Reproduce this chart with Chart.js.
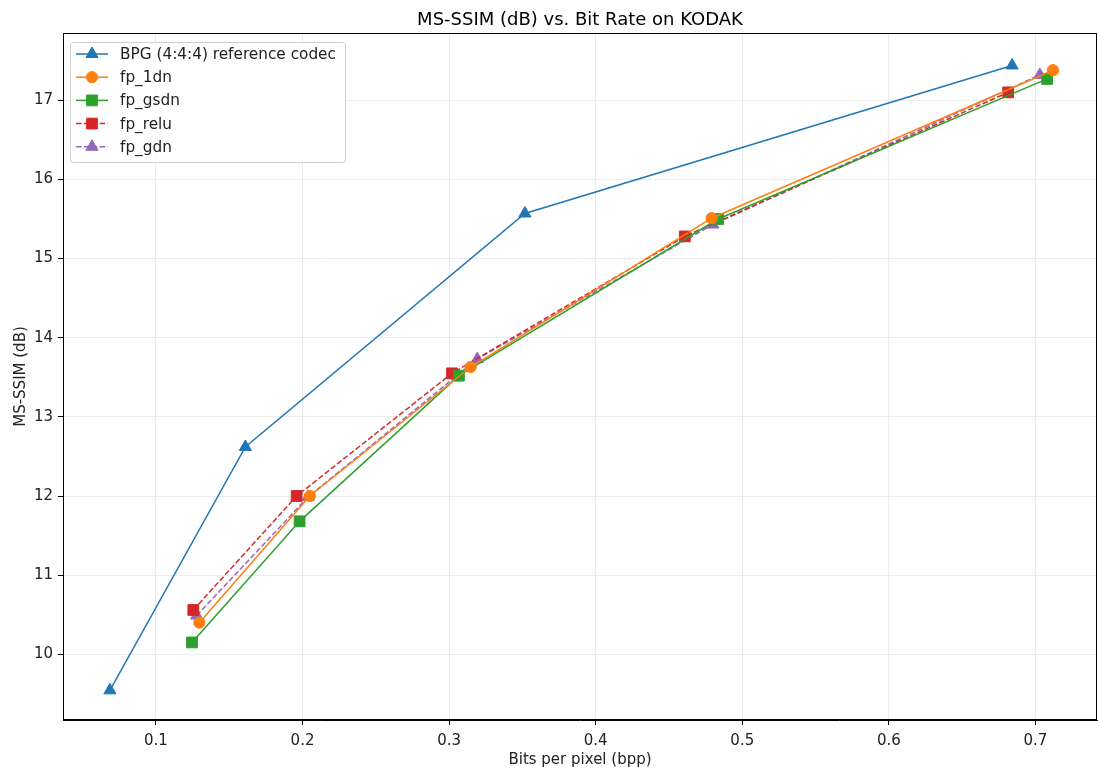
<!DOCTYPE html>
<html>
<head>
<meta charset="utf-8">
<script src="https://cdn.jsdelivr.net/npm/chart.js@4"></script>
<style>
  body { margin: 0; background: #fff; }
  canvas { display: block; }
</style>
</head>
<body>
<canvas id="graph" width="1098" height="771"></canvas>
<script>
// bit rates (bpp) and MS-SSIM (dB)
const bpgX = [0.0686, 0.1610, 0.3517, 0.6841]
const bpgY = [9.545, 12.62, 15.57, 17.44]
const fp1dnX = [0.1296, 0.2050, 0.3147, 0.4791, 0.7120]
const fp1dnY = [10.40, 12.00, 13.63, 15.51, 17.38]
const fpGsdnX = [0.1246, 0.1980, 0.3067, 0.4836, 0.7080]
const fpGsdnY = [10.15, 11.68, 13.52, 15.50, 17.27]
const fpReluX = [0.1255, 0.1960, 0.3020, 0.4608, 0.6814]
const fpReluY = [10.56, 12.00, 13.55, 15.28, 17.10]
const fpGdnX = [0.1278, 0.2039, 0.3192, 0.4800, 0.7030]
const fpGdnY = [10.49, 11.99, 13.73, 15.43, 17.32]

const xTicks = [0.1, 0.2, 0.3, 0.4, 0.5, 0.6, 0.7]
const yTicks = [10, 11, 12, 13, 14, 15, 16, 17]

const chartTitle = "MS-SSIM (dB) vs. Bit Rate on KODAK"

const series = [
    { label: "BPG (4:4:4) reference codec", xs: bpgX, ys: bpgY, color: "#1f77b4", style: "triangle", dash: [] },
    { label: "fp_1dn", xs: fp1dnX, ys: fp1dnY, color: "#ff7f0e", style: "circle", dash: [] },
    { label: "fp_gsdn", xs: fpGsdnX, ys: fpGsdnY, color: "#2ca02c", style: "rect", dash: [] },
    { label: "fp_relu", xs: fpReluX, ys: fpReluY, color: "#d62728", style: "rect", dash: [5.5, 2.4] },
    { label: "fp_gdn", xs: fpGdnX, ys: fpGdnY, color: "#9467bd", style: "triangle", dash: [5.5, 2.4] },
]

const radiusFor = (style) => style === "rect" ? 7.6 : (style === "triangle" ? 7 : 5.6)

const FONT = "'DejaVu Sans', sans-serif"

// axes frame, title over the axes and legend inside the plot
const frameAndLegend = {
    id: "frameAndLegend",
    afterDraw(chart) {
        const { ctx, chartArea: a } = chart
        ctx.save()
        ctx.strokeStyle = "#000"
        ctx.lineWidth = 1
        ctx.strokeRect(a.left + 0.5, a.top + 0.5, a.right - a.left - 1, a.bottom - a.top - 1)

        ctx.fillStyle = "#000"
        ctx.font = "18px " + FONT
        ctx.textAlign = "center"
        ctx.textBaseline = "middle"
        ctx.fillText(chartTitle, (a.left + a.right) / 2, 20.5)

        // legend box
        const bx = 70, by = 42, bw = 275, bh = 120
        ctx.beginPath()
        ctx.roundRect(bx + 0.5, by + 0.5, bw, bh, 3)
        ctx.fillStyle = "rgba(255,255,255,0.85)"
        ctx.fill()
        ctx.strokeStyle = "#d0d0d0"
        ctx.stroke()

        ctx.font = "15.3px " + FONT
        ctx.textAlign = "left"
        series.forEach((s, i) => {
            const y = 54 + i * 23.2
            ctx.strokeStyle = s.color
            ctx.lineWidth = 1.5
            ctx.setLineDash(s.dash)
            ctx.beginPath()
            ctx.moveTo(76, y)
            ctx.lineTo(108, y)
            ctx.stroke()
            ctx.setLineDash([])
            ctx.fillStyle = s.color
            ctx.lineWidth = 1
            Chart.helpers.drawPoint(ctx, { pointStyle: s.style, radius: radiusFor(s.style), rotation: 0, borderWidth: 1 }, 92, y)
            ctx.fillStyle = "#222"
            ctx.fillText(s.label, 120, y + 1)
        })
        ctx.restore()
    }
}

const keepTicks = (list) => (scale) => {
    scale.ticks = list.map(v => ({ value: v }))
}

new Chart(document.getElementById("graph"), {
    type: "scatter",
    data: {
        datasets: series.map(s => ({
            label: s.label,
            data: s.xs.map((x, i) => ({ x: x, y: s.ys[i] })),
            showLine: true,
            borderColor: s.color,
            backgroundColor: s.color,
            borderWidth: 1.5,
            borderDash: s.dash,
            pointStyle: s.style,
            pointRadius: radiusFor(s.style),
            pointBorderWidth: 1,
            pointBorderColor: s.color,
            pointBackgroundColor: s.color,
            tension: 0
        }))
    },
    options: {
        responsive: false,
        animation: false,
        layout: { autoPadding: false, padding: { left: 0, right: 1, top: 33, bottom: 0 } },
        plugins: {
            legend: { display: false },
            tooltip: { enabled: false },
            title: { display: false }
        },
        scales: {
            x: {
                type: "linear",
                min: 0.0366,
                max: 0.742,
                afterBuildTicks: keepTicks(xTicks),
                afterFit: (scale) => {
                    scale.height = 51
                    scale.paddingLeft = 0
                    scale.paddingRight = 0
                },
                grid: { color: "#ebebeb", lineWidth: 1, tickColor: "#000", tickLength: 5 },
                border: { color: "#000", width: 1 },
                ticks: {
                    color: "#222",
                    font: { family: FONT, size: 15 },
                    padding: 7,
                    maxRotation: 0,
                    callback: (v) => v.toFixed(1)
                },
                title: {
                    display: true,
                    text: "Bits per pixel (bpp)",
                    color: "#222",
                    font: { family: FONT, size: 15 },
                    padding: { top: 0, bottom: 2 }
                }
            },
            y: {
                type: "linear",
                min: 9.17,
                max: 17.85,
                afterBuildTicks: keepTicks(yTicks),
                afterFit: (scale) => {
                    scale.width = 63
                    scale.paddingTop = 0
                    scale.paddingBottom = 0
                },
                grid: { color: "#ebebeb", lineWidth: 1, tickColor: "#000", tickLength: 5 },
                border: { color: "#000", width: 1 },
                ticks: {
                    color: "#222",
                    font: { family: FONT, size: 15 },
                    padding: 5,
                    callback: (v) => String(v)
                },
                title: {
                    display: true,
                    text: "MS-SSIM (dB)",
                    color: "#222",
                    font: { family: FONT, size: 15 },
                    padding: { top: 12, bottom: 0 }
                }
            }
        }
    },
    plugins: [frameAndLegend]
})
</script>
</body>
</html>
